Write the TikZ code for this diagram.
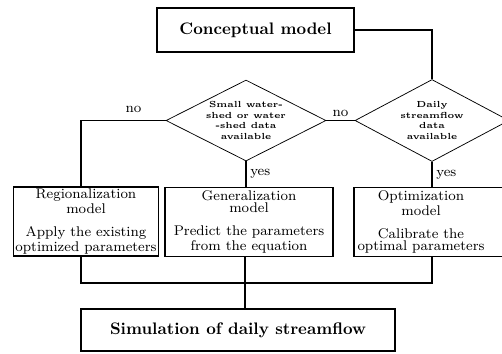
\documentclass[tikz,border=0pt]{standalone}
\usepackage{tikz}
\usetikzlibrary{shapes.geometric}

\begin{document}
\begin{tikzpicture}[x=0.02cm, y=-0.02cm,
  box/.style={draw=black, line width=0.3mm, align=center, inner sep=1pt, font=\fontsize{8}{6.5}\selectfont},
  decision/.style={draw=black, line width=0.15mm, diamond, aspect=2, inner sep=0pt, align=center, font=\tiny\bfseries},
  link/.style={black, line width=0.3mm},
  answer/.style={font=\footnotesize, inner sep=2pt}]
\useasboundingbox (0,0) rectangle (502,353);
\clip (0,0) rectangle (502,353);
\node[box, minimum width=3.94cm, minimum height=0.88cm, font=\fontsize{9.5}{11}\selectfont\bfseries] (concept) at (255.5,30) {Conceptual model};
\node[decision, minimum width=3.2cm, minimum height=1.62cm] (dsmall) at (246,120.5) {Small water-\\shed or water\\-shed data\\available};
\node[decision, minimum width=3.08cm, minimum height=1.64cm] (ddaily) at (432,120.5) {Daily\\streamflow\\data\\available};
\node[box, minimum width=2.84cm, minimum height=1.38cm] (region) at (86,221.5) {Regionalization\\model\\[7pt]Apply the existing\\optimized parameters};
\node[box, minimum width=3.36cm, minimum height=1.38cm] (general) at (249,222) {Generalization\\model\\[7pt]Predict the parameters\\from the equation};
\node[box, minimum width=3.4cm, minimum height=1.38cm] (optim) at (439,222) {};
\node[box, draw=none] (optimtext) at (421,222) {Optimization\\model\\[7pt]Calibrate the\\optimal parameters};
\node[box, minimum width=6.28cm, minimum height=0.84cm, font=\fontsize{9.5}{11}\selectfont\bfseries] (sim) at (238,330) {Simulation of daily streamflow};
\coordinate (regx) at (81,0);
\coordinate (join) at (245,283);
% decisions
\draw[link] (concept.east) -| (ddaily.north);
\draw[link] (ddaily.west) -- node[above, answer]{no} (dsmall.east);
\draw[link] (dsmall.west) -| node[pos=0.19, above=2pt, answer]{no} (region.north -| regx);
\draw[link] (dsmall.south) -- node[right, answer]{yes} (dsmall.south |- general.north);
\draw[link] (ddaily.south) -- node[right, answer]{yes} (ddaily.south |- optim.north);
% outputs
\draw[link] (region.south -| regx) |- (join) -| (optim.south -| ddaily.south);
\draw[link] (general.south -| join) -- (sim.north -| join);
\end{tikzpicture}
\end{document}
